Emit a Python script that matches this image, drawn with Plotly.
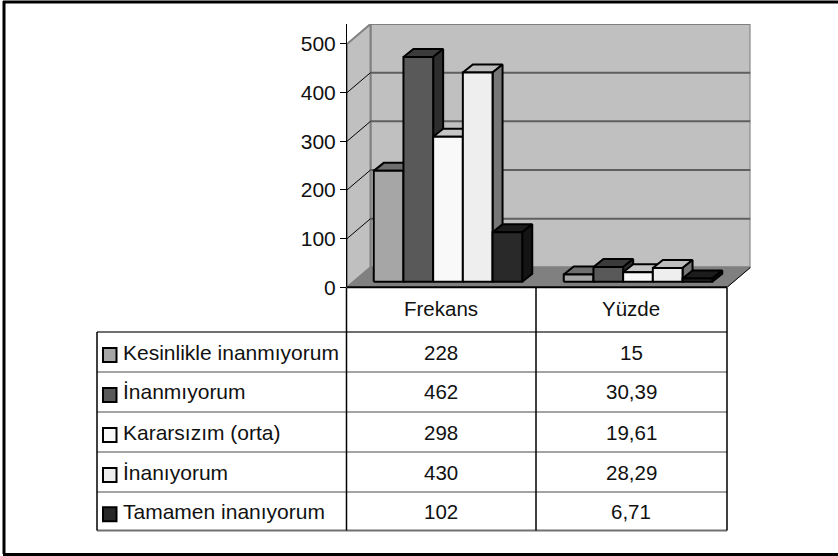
import plotly.graph_objects as go

W, H = 838, 556

answers = ["Kesinlikle inanmıyorum", "İnanmıyorum", "Kararsızım (orta)", "İnanıyorum", "Tamamen inanıyorum"]
groups = ["Frekans", "Yüzde"]
frekans = [228, 462, 298, 430, 102]
yuzde = [15, 30.39, 19.61, 28.29, 6.71]
yuzde_labels = ["15", "30,39", "19,61", "28,29", "6,71"]
y_ticks = [0, 100, 200, 300, 400, 500]

# shades: front, top, side
front_colors = ["#A6A6A6", "#595959", "#F9F9F9", "#EEEEEE", "#292929"]
top_colors = ["#6E6E6E", "#3B3B3B", "#C6C6C6", "#BDBDBD", "#1C1C1C"]
side_colors = ["#535353", "#2D2D2D", "#7C7C7C", "#777777", "#141414"]

# plot box in pixels, front floor corner to back top corner
X0, X1, Y0, Y1 = 347, 750.5, 287.3, 24
PX_PER_CAT = 190
PX_PER_VAL = 244 / 500
WALL_DX = 23.5 / PX_PER_CAT
WALL_DY = 20 / PX_PER_VAL
BAR_W = 29.7 / PX_PER_CAT
BAR_GAP_DX = 6 / PX_PER_CAT
BAR_GAP_DY = 5.5 / PX_PER_VAL
BAR_DX = 10 / PX_PER_CAT
BAR_DY = 8 / PX_PER_VAL


def px(x):
    return x / W


def py(y):
    return 1 - y / H


def face(xs, ys, color):
    return go.Scatter(x=xs, y=ys, mode="lines", fill="toself", fillcolor=color,
                      line=dict(color="black", width=2), hoverinfo="skip", showlegend=False)


def add_bar(fig, left, value, i):
    right = left + BAR_W
    base = BAR_GAP_DY
    top = value + base
    # top and side first so the front face sits over their edges
    fig.add_trace(face([left, right, right + BAR_DX, left + BAR_DX, left],
                       [top, top, top + BAR_DY, top + BAR_DY, top], top_colors[i]))
    fig.add_trace(face([right, right + BAR_DX, right + BAR_DX, right, right],
                       [base, base + BAR_DY, top + BAR_DY, top, base], side_colors[i]))
    fig.add_trace(face([left, right, right, left, left],
                       [base, base, top, top, base], front_colors[i]))


def page_line(x0, y0, x1, y1, color="black", width=1):
    return dict(type="line", xref="paper", yref="paper", x0=px(x0), y0=py(y0), x1=px(x1), y1=py(y1),
                line=dict(color=color, width=width))


def cell_text(x, y, text, anchor="center", size=20.5):
    return dict(xref="paper", yref="paper", x=px(x), y=py(y), text=text, showarrow=False,
                xanchor=anchor, yanchor="middle", font=dict(family="Liberation Sans", size=size, color="#111111"))


fig = go.Figure()

for g, values in enumerate([frekans, yuzde]):
    for i, v in enumerate(values):
        left = g + 0.5 + (i - 2) * BAR_W - BAR_W / 2 + BAR_GAP_DX
        add_bar(fig, left, v, i)

top_val = y_ticks[-1]
shapes = [
    # back wall, side wall, floor
    dict(type="rect", x0=WALL_DX, x1=2 + WALL_DX, y0=WALL_DY, y1=top_val + WALL_DY, layer="below",
         fillcolor="#C0C0C0", line=dict(color="#808080", width=2)),
    dict(type="path", path=f"M 0 0 L {WALL_DX} {WALL_DY} L {WALL_DX} {top_val + WALL_DY} L 0 {top_val} Z",
         layer="below", fillcolor="#C0C0C0", line=dict(color="#808080", width=2)),
    dict(type="path", path=f"M 0 0 L 2 0 L {2 + WALL_DX} {WALL_DY} L {WALL_DX} {WALL_DY} Z",
         layer="below", fillcolor="#808080", line=dict(color="#808080", width=1)),
]
for t in y_ticks[1:-1]:
    shapes.append(dict(type="line", x0=WALL_DX, x1=2 + WALL_DX, y0=t + WALL_DY, y1=t + WALL_DY, layer="below",
                       line=dict(color="#5F5F5F", width=2)))
for t in y_ticks[1:-1]:
    shapes.append(dict(type="line", x0=0, x1=WALL_DX, y0=t, y1=t + WALL_DY, layer="below",
                       line=dict(color="#000000", width=1)))
shapes.append(dict(type="line", x0=2, x1=2 + WALL_DX, y0=0, y1=WALL_DY, line=dict(color="black", width=1)))

# data table
row_lines = [332, 372, 412, 452, 492, 530.5]
shapes.append(page_line(347, 287.3, 727, 287.3, "black", 2))
for y in row_lines:
    edge = y in (row_lines[0], row_lines[-1])
    shapes.append(page_line(97, y, 727, y, "#707070" if edge else "#4A4A4A", 2 if edge else 1))
for x, y_start in [(97, 332), (346.5, 287.3), (536, 287.3), (727, 287.3)]:
    shapes.append(page_line(x, y_start, x, 530.5, "black", 1.5))

annotations = [cell_text(441, 308.5, groups[0]), cell_text(631, 308.5, groups[1])]
for i, name in enumerate(answers):
    yc = (row_lines[i] + row_lines[i + 1]) / 2
    annotations.append(cell_text(121, yc, name, "left", 21))
    annotations.append(cell_text(441, yc, str(frekans[i])))
    annotations.append(cell_text(631, yc, yuzde_labels[i]))
    shapes.append(dict(type="rect", xref="paper", yref="paper", x0=px(103), x1=px(116.5),
                       y0=py(yc - 4), y1=py(yc + 10), fillcolor=front_colors[i],
                       line=dict(color="black", width=2)))

# outer frame, no line on the right in the source
shapes.append(page_line(3, 2, W, 2, "black", 3))
shapes.append(page_line(4, 1, 4, 554, "black", 3))
shapes.append(page_line(3, 554.5, W, 554.5, "black", 3))

fig.update_layout(
    width=W, height=H, margin=dict(l=0, r=0, t=0, b=0, autoexpand=False),
    paper_bgcolor="white", plot_bgcolor="rgba(0,0,0,0)",
    showlegend=False, shapes=shapes, annotations=annotations,
    xaxis=dict(domain=[px(X0), px(X1)], range=[0, 2 + WALL_DX], showgrid=False, zeroline=False,
               showticklabels=False, ticks=""),
    yaxis=dict(domain=[py(Y0), py(Y1)], range=[0, top_val + WALL_DY], showgrid=False, zeroline=False,
               tickmode="array", tickvals=y_ticks, ticks="outside", ticklen=6, tickcolor="black",
               showline=True, linecolor="black", linewidth=1,
               tickfont=dict(family="Liberation Sans", size=21, color="#111111")),
)

fig.write_html("out.html", config={"displayModeBar": False},
               post_script="document.body.style.margin='0';document.body.style.overflow='hidden';")
